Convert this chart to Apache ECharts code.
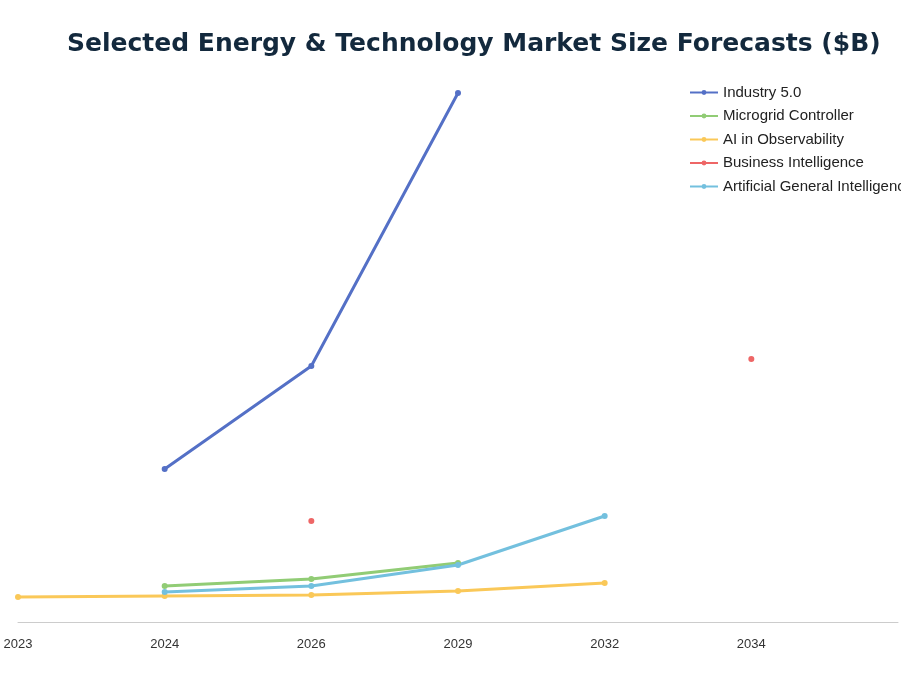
<!DOCTYPE html>
<html><head><meta charset="utf-8">
<script src="https://cdn.jsdelivr.net/npm/echarts@6/dist/echarts.min.js"></script>
<style>html,body{margin:0;padding:0}#c{width:901px;height:676px}</style>
</head><body><div id="c"></div>
<script>
const categories = ['2023','2024','2026','2029','2032','2034',''];
const industry50 = [null,30.6,51.2,105.8,null,null,null];
const microgrid = [null,7.2,8.6,11.8,null,null,null];
const aiObs = [5,5.2,5.4,6.2,7.8,null,null];
const bizIntel = [null,null,20.2,null,null,52.6,null];
const agi = [null,6,7.2,11.4,21.2,null,null];
const names = ['Industry 5.0','Microgrid Controller','AI in Observability','Business Intelligence','Artificial General Intelligence'];
const colors = ['#5470c6','#91cc75','#fac858','#ee6666','#73c0de'];
const data = [industry50,microgrid,aiObs,bizIntel,agi];
const chart = echarts.init(document.getElementById('c'));
chart.setOption({
  color: colors,
  title:{text:'Selected Energy & Technology Market Size Forecasts ($B)',left:62,top:27,textStyle:{fontSize:25,fontWeight:'bold',color:'#13293d',fontFamily:'DejaVu Sans'}},
  legend:{orient:'vertical',left:684,top:80,itemGap:8.5,itemWidth:28,itemHeight:6,textStyle:{fontSize:15,color:'#222'},data:names},
  grid:{left:18,width:902,top:60,bottom:54},
  xAxis:{type:'category',data:categories,boundaryGap:false,axisLine:{lineStyle:{color:'#ccc'}},axisTick:{show:false},axisLabel:{color:'#333',fontSize:13,margin:16}},
  yAxis:{type:'value',min:0,max:112.4,show:false,splitLine:{show:false}},
  series: data.map((d,i)=>({name:names[i],type:'line',data:d,symbol:'circle',symbolSize:6,lineStyle:{width:3},connectNulls:false}))
});
</script></body></html>
